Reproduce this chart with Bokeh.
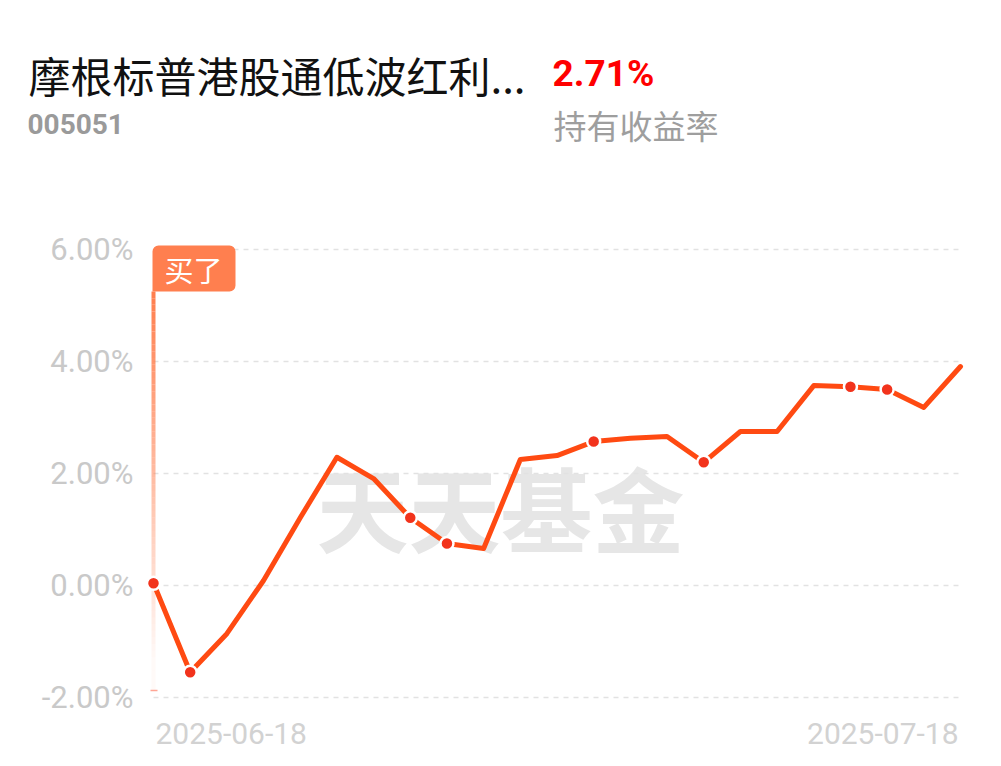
from bokeh.plotting import figure
from bokeh.layouts import column
from bokeh.models import Range1d, FixedTicker, Label, PrintfTickFormatter, BoxAnnotation, ColumnDataSource
from bokeh.embed import file_html
from bokeh.resources import INLINE

# ---------------- data ----------------
fund_name = "摩根标普港股通低波红利..."
fund_code = "005051"
hold_return = "2.71%"
hold_label = "持有收益率"
buy_label = "买了"
watermark = "天天基金"

dates = ["2025-06-18", "2025-06-19", "2025-06-20", "2025-06-23", "2025-06-24",
         "2025-06-25", "2025-06-26", "2025-06-27", "2025-06-30", "2025-07-01",
         "2025-07-02", "2025-07-03", "2025-07-04", "2025-07-07", "2025-07-08",
         "2025-07-09", "2025-07-10", "2025-07-11", "2025-07-14", "2025-07-15",
         "2025-07-16", "2025-07-17", "2025-07-18"]
returns = [0.04, -1.55, -0.86, 0.09, 1.21, 2.29, 1.91, 1.21, 0.75, 0.66,
           2.25, 2.32, 2.57, 2.63, 2.66, 2.20, 2.75, 2.75, 3.57, 3.55,
           3.50, 3.18, 3.91]
marked_idx = [0, 1, 7, 8, 12, 15, 19, 20]
y_ticks = [-2, 0, 2, 4, 6]
x_tick_labels = [dates[0], dates[-1]]

# ---------------- layout ----------------
W = 995
HH = 190                  # header height
CH = 570                  # chart height
FL = 145                  # frame left (page px)
FR = 966                  # frame right (page px)
FT = 230                  # frame top (page px)
FB = HH + CH              # frame bottom (page px)
n = len(dates)
idx = list(range(n))

step = (960 - 153) / (n - 1)
x0 = (FL - 153) / step
x1 = (n - 1) + (FR - 960) / step
ppu = 56.0
y_start = (585 - FB) / ppu
y_end = (585 - FT) / ppu

# ---------- header ----------
h = figure(width=W, height=HH, output_backend="svg", toolbar_location=None,
           x_range=Range1d(0, W), y_range=Range1d(HH, 0),
           min_border=0, title=None)
h.frame_align = False
h.outline_line_color = None
h.grid.visible = False
h.axis.visible = False

h.add_layout(Label(x=28, y=74, text=fund_name, text_align="left", text_baseline="middle",
                   text_font="Noto Sans CJK SC", text_font_size="42px",
                   text_color="#111111"))
h.add_layout(Label(x=552, y=73, text=hold_return, text_align="left", text_baseline="middle",
                   text_font="Roboto", text_font_style="bold",
                   text_font_size="37px", text_color="#FF0000"))
h.add_layout(Label(x=27, y=123, text=fund_code, text_align="left", text_baseline="middle",
                   text_font="Roboto", text_font_style="bold",
                   text_font_size="28px", text_color="#9a9a9a"))
h.add_layout(Label(x=553, y=124, text=hold_label, text_align="left", text_baseline="middle",
                   text_font="Noto Sans CJK SC", text_font_size="33px",
                   text_color="#9e9e9e"))

# ---------- chart ----------
p = figure(width=W, height=CH, output_backend="svg", toolbar_location=None,
           x_range=Range1d(x0, x1), y_range=Range1d(y_start, y_end),
           min_border_left=FL, min_border_right=W - FR, min_border_top=FT - HH,
           min_border_bottom=0, title=None)
p.frame_align = False
p.outline_line_color = None
p.grid.visible = False
p.xaxis.visible = False

yax = p.yaxis[0]
yax.ticker = FixedTicker(ticks=y_ticks)
yax.formatter = PrintfTickFormatter(format="%.2f%%")
yax.axis_line_color = None
yax.major_tick_line_color = None
yax.minor_tick_line_color = None
yax.major_label_standoff = 6
yax.major_label_text_font = "Roboto"
yax.major_label_text_font_size = "31px"
yax.major_label_text_color = "#c9c9c9"

def sx(px):
    return px - FL

def sy(py):
    return FB - py

# watermark
p.add_layout(Label(x=sx(500), y=sy(505), x_units="screen", y_units="screen",
                   text=watermark, text_align="center", text_baseline="middle",
                   text_font="Noto Sans CJK SC", text_font_style="bold",
                   text_font_size="92px", text_color="#e6e6e6", level="underlay"))

# grid lines
p.segment(x0=[0] * len(y_ticks), x1=[n - 1] * len(y_ticks), y0=y_ticks, y1=y_ticks,
          line_color="#e2e2e2", line_width=1.5, line_dash="5 5")

# buy marker: fading vertical line
top_v = (585 - 291) / ppu
bot_v = (585 - 690) / ppu
segs = 60
ys = [top_v + (bot_v - top_v) * i / segs for i in range(segs + 1)]
alphas = [max(0.04, 1.0 - 1.05 * i / segs) for i in range(segs)]
p.segment(x0=[0] * segs, x1=[0] * segs, y0=ys[:-1], y1=ys[1:],
          line_color="#FF7F4F", line_alpha=alphas, line_width=4)
p.segment(x0=[-3 / step], x1=[4 / step], y0=[bot_v], y1=[bot_v],
          line_color="#FF6A50", line_alpha=0.6, line_width=1.5)

p.add_layout(BoxAnnotation(left=-1 / step, right=(235 - 153) / step,
                           top=(585 - 245) / ppu, bottom=top_v,
                           fill_color="#FF7F4F", fill_alpha=1.0, line_color=None,
                           border_radius=(6, 6, 6, 0), level="glyph"))
p.add_layout(Label(x=0, y=(585 - 268) / ppu, x_offset=40, text=buy_label,
                   text_align="center", text_baseline="middle",
                   text_font="Noto Sans CJK SC", text_font_size="29px",
                   text_color="white"))

# data line
src = ColumnDataSource(dict(x=idx, y=returns))
p.line("x", "y", source=src, line_color="#FF4A12", line_width=5,
       line_join="round", line_cap="round")
p.scatter([idx[i] for i in marked_idx], [returns[i] for i in marked_idx],
          size=13, fill_color="#F2331C", line_color="white", line_width=2.5)

# x labels
p.add_layout(Label(x=0, y=sy(733), y_units="screen", x_offset=2, text=x_tick_labels[0],
                   text_align="left", text_baseline="middle",
                   text_font="Roboto", text_font_size="30px", text_color="#d2d2d2"))
p.add_layout(Label(x=n - 1, y=sy(733), y_units="screen", x_offset=-2, text=x_tick_labels[1],
                   text_align="right", text_baseline="middle",
                   text_font="Roboto", text_font_size="30px", text_color="#d2d2d2"))

layout = column(h, p, spacing=0)
open("out.html", "w").write(file_html(layout, INLINE))
